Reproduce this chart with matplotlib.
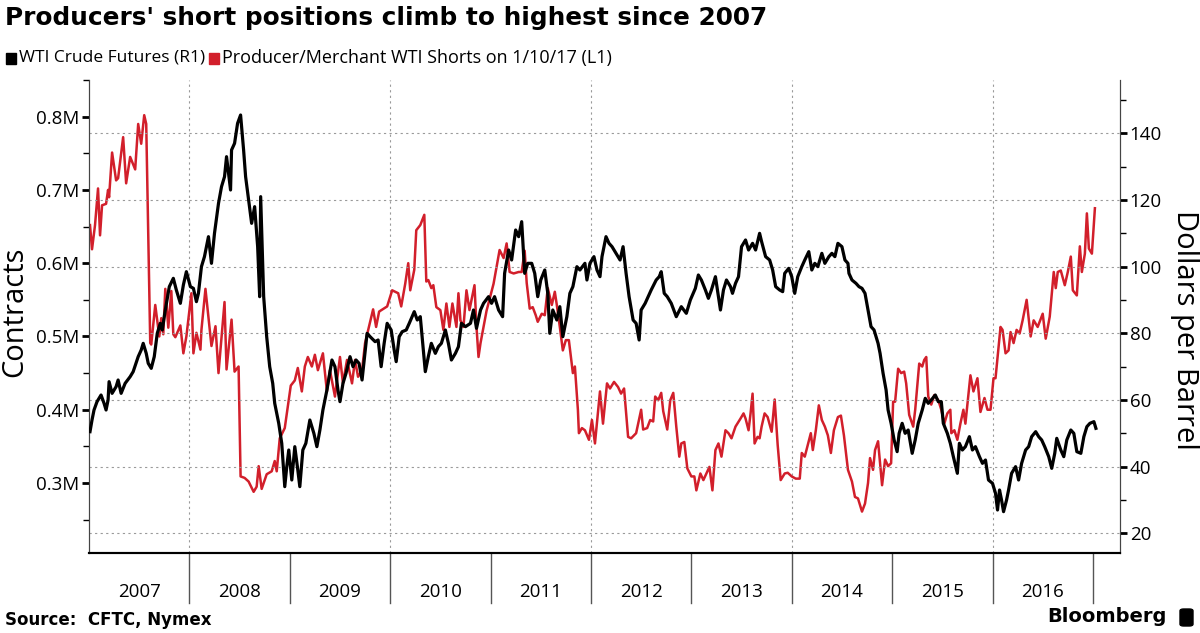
import matplotlib
matplotlib.use("Agg")
import matplotlib.pyplot as plt
from matplotlib.patches import Rectangle, FancyBboxPatch
from matplotlib.ticker import MultipleLocator, FixedLocator
import matplotlib.transforms as mtransforms

# WTI front-month price, $/bbl (right axis), time as decimal year
wti_t = [2007.01, 2007.03, 2007.05, 2007.08, 2007.12, 2007.15, 2007.17, 2007.19, 2007.20, 2007.23,
         2007.27, 2007.29, 2007.32, 2007.36, 2007.41, 2007.44, 2007.49, 2007.52, 2007.54, 2007.57,
         2007.59, 2007.62, 2007.65, 2007.68, 2007.71, 2007.73, 2007.76, 2007.80, 2007.84, 2007.87,
         2007.91, 2007.94, 2007.97, 2008.01, 2008.04, 2008.07, 2008.09, 2008.12, 2008.15, 2008.19,
         2008.22, 2008.25, 2008.29, 2008.32, 2008.35, 2008.37, 2008.41, 2008.42, 2008.45, 2008.48,
         2008.51, 2008.54, 2008.56, 2008.59, 2008.62, 2008.65, 2008.68, 2008.70, 2008.71, 2008.74,
         2008.77, 2008.80, 2008.83, 2008.85, 2008.89, 2008.92, 2008.95, 2008.97, 2008.99, 2009.02,
         2009.05, 2009.08, 2009.10, 2009.13, 2009.16, 2009.20, 2009.24, 2009.27, 2009.30, 2009.33,
         2009.37, 2009.42, 2009.45, 2009.48, 2009.50, 2009.53, 2009.56, 2009.60, 2009.63, 2009.66,
         2009.69, 2009.72, 2009.77, 2009.80, 2009.85, 2009.88, 2009.91, 2009.94, 2009.97, 2010.01,
         2010.04, 2010.06, 2010.09, 2010.12, 2010.16, 2010.19, 2010.24, 2010.27, 2010.30, 2010.33,
         2010.35, 2010.38, 2010.41, 2010.45, 2010.48, 2010.51, 2010.55, 2010.58, 2010.61, 2010.65,
         2010.68, 2010.71, 2010.75, 2010.80, 2010.83, 2010.86, 2010.90, 2010.93, 2010.98, 2011.01,
         2011.04, 2011.08, 2011.12, 2011.14, 2011.18, 2011.21, 2011.25, 2011.28, 2011.31, 2011.34,
         2011.37, 2011.41, 2011.44, 2011.47, 2011.50, 2011.54, 2011.57, 2011.59, 2011.62, 2011.66,
         2011.69, 2011.72, 2011.76, 2011.79, 2011.82, 2011.86, 2011.89, 2011.94, 2011.96, 2011.99,
         2012.03, 2012.06, 2012.09, 2012.11, 2012.15, 2012.18, 2012.21, 2012.25, 2012.29, 2012.32,
         2012.35, 2012.38, 2012.42, 2012.45, 2012.48, 2012.50, 2012.54, 2012.57, 2012.60, 2012.65,
         2012.68, 2012.70, 2012.73, 2012.76, 2012.80, 2012.85, 2012.90, 2012.95, 2012.99, 2013.04,
         2013.07, 2013.10, 2013.14, 2013.17, 2013.20, 2013.24, 2013.27, 2013.29, 2013.32, 2013.35,
         2013.39, 2013.41, 2013.44, 2013.47, 2013.50, 2013.54, 2013.57, 2013.61, 2013.64, 2013.68,
         2013.70, 2013.74, 2013.78, 2013.81, 2013.84, 2013.88, 2013.91, 2013.93, 2013.97, 2014.00,
         2014.03, 2014.06, 2014.10, 2014.13, 2014.17, 2014.20, 2014.23, 2014.26, 2014.30, 2014.33,
         2014.37, 2014.40, 2014.43, 2014.46, 2014.50, 2014.53, 2014.56, 2014.57, 2014.60, 2014.64,
         2014.67, 2014.70, 2014.73, 2014.76, 2014.79, 2014.82, 2014.86, 2014.88, 2014.91, 2014.94,
         2014.96, 2014.99, 2015.02, 2015.05, 2015.07, 2015.10, 2015.13, 2015.16, 2015.20, 2015.23,
         2015.26, 2015.30, 2015.33, 2015.36, 2015.39, 2015.43, 2015.46, 2015.49, 2015.51, 2015.55,
         2015.58, 2015.61, 2015.65, 2015.67, 2015.70, 2015.73, 2015.77, 2015.80, 2015.83, 2015.87,
         2015.90, 2015.93, 2015.96, 2016.00, 2016.03, 2016.05, 2016.07, 2016.09, 2016.11, 2016.14,
         2016.16, 2016.19, 2016.23, 2016.26, 2016.29, 2016.33, 2016.36, 2016.39, 2016.43, 2016.46,
         2016.49, 2016.52, 2016.56, 2016.59, 2016.62, 2016.64, 2016.68, 2016.71, 2016.74, 2016.78,
         2016.81, 2016.84, 2016.88, 2016.91, 2016.94, 2016.97, 2017.01, 2017.03]
wti_usd = [50.5, 54, 57, 59.5, 61.5, 59, 57, 60, 65.5, 62,
           64, 66, 62, 65, 67, 68.5, 73, 75, 77, 74,
           71, 69.5, 73, 80, 83, 81, 87, 94, 96.5, 93,
           89, 94.5, 98.5, 94, 93.5, 89.5, 92, 100, 103, 109,
           101, 110, 119, 124, 127, 133, 123, 135, 137, 143,
           145.5, 135, 127, 120, 113, 118, 106, 91, 121, 91,
           79, 70, 65, 59, 53, 47, 34, 40, 45, 36,
           46, 39, 34, 45, 47, 54, 50, 46, 51, 57,
           63, 72, 70, 63, 59.5, 65, 68, 73, 70, 72,
           71, 66, 80, 79, 77.5, 78, 70, 77, 83, 81,
           75, 71.5, 79, 80.5, 81, 83, 86.5, 84, 85, 75,
           68.5, 73, 77, 74, 76, 77, 81, 77, 72, 74,
           76, 83, 82, 83, 87, 81.5, 87, 89, 91, 89,
           91, 87, 85, 98, 105, 102, 111, 109, 113.5, 98,
           101, 101, 98, 91, 96, 99, 92, 80, 87, 84,
           88, 79, 85, 92, 94, 100, 99, 101, 96, 101,
           103, 99, 97, 103, 109, 107, 106, 104, 102, 106,
           98, 91, 84, 83, 78, 87, 89, 91, 93, 96,
           97, 98.5, 92, 91, 89, 85, 88, 86, 90, 93.5,
           97.5, 96, 93, 90.5, 93, 97, 91, 87, 93, 96,
           94, 92, 95, 97, 106, 108, 105, 107, 105, 110,
           107.5, 103, 102, 99, 94, 93, 92.5, 98, 99.5, 97,
           92, 97, 100, 102, 104.5, 99, 101, 100, 104, 101,
           103, 104, 103, 107, 106, 102, 101, 98, 96, 95,
           94, 93.5, 92, 87, 82, 81, 77, 74, 68, 63,
           57, 53, 48, 44.5, 50, 53, 50, 51, 44, 48,
           53, 57, 60.5, 59, 60, 61.5, 59.5, 59.5, 53, 50,
           47, 43, 38, 47, 45, 46, 49, 45, 46, 43,
           41, 42, 36, 35, 32, 27, 33, 30, 26.5, 30,
           33, 38, 40, 36, 41, 45, 46, 49, 50.5, 49,
           48, 46, 43, 39.5, 44, 48.5, 45, 43, 48, 51,
           50, 44.5, 44, 49, 52, 53, 53.5, 51.5]

# Producer/merchant WTI shorts, million contracts (left axis)
shorts_t = [2007.01, 2007.03, 2007.06, 2007.09, 2007.11, 2007.13, 2007.17, 2007.19, 2007.20, 2007.23,
            2007.27, 2007.29, 2007.34, 2007.37, 2007.41, 2007.46, 2007.49, 2007.52, 2007.55, 2007.57,
            2007.61, 2007.62, 2007.66, 2007.70, 2007.72, 2007.74, 2007.76, 2007.79, 2007.82, 2007.84,
            2007.86, 2007.91, 2007.94, 2007.97, 2008.02, 2008.04, 2008.07, 2008.11, 2008.12, 2008.16,
            2008.22, 2008.26, 2008.29, 2008.35, 2008.37, 2008.42, 2008.45, 2008.49, 2008.51, 2008.55,
            2008.59, 2008.64, 2008.67, 2008.69, 2008.72, 2008.77, 2008.82, 2008.85, 2008.87, 2008.90,
            2008.95, 2008.99, 2009.01, 2009.05, 2009.08, 2009.12, 2009.15, 2009.18, 2009.22, 2009.25,
            2009.28, 2009.33, 2009.37, 2009.40, 2009.45, 2009.50, 2009.53, 2009.57, 2009.62, 2009.65,
            2009.68, 2009.72, 2009.75, 2009.83, 2009.86, 2009.89, 2009.97, 2010.02, 2010.08, 2010.11,
            2010.15, 2010.18, 2010.20, 2010.24, 2010.26, 2010.30, 2010.34, 2010.36, 2010.38, 2010.41,
            2010.43, 2010.46, 2010.50, 2010.53, 2010.56, 2010.59, 2010.62, 2010.66, 2010.68, 2010.70,
            2010.73, 2010.76, 2010.79, 2010.84, 2010.86, 2010.88, 2010.90, 2010.96, 2011.03, 2011.09,
            2011.13, 2011.16, 2011.19, 2011.23, 2011.28, 2011.31, 2011.34, 2011.36, 2011.39, 2011.42,
            2011.45, 2011.47, 2011.51, 2011.54, 2011.57, 2011.61, 2011.64, 2011.66, 2011.69, 2011.72,
            2011.75, 2011.78, 2011.82, 2011.84, 2011.87, 2011.88, 2011.91, 2011.94, 2011.98, 2012.01,
            2012.04, 2012.09, 2012.12, 2012.16, 2012.19, 2012.23, 2012.27, 2012.30, 2012.33, 2012.37,
            2012.40, 2012.45, 2012.50, 2012.52, 2012.56, 2012.59, 2012.62, 2012.64, 2012.67, 2012.70,
            2012.72, 2012.76, 2012.79, 2012.82, 2012.85, 2012.88, 2012.90, 2012.93, 2012.96, 2013.00,
            2013.03, 2013.05, 2013.09, 2013.12, 2013.15, 2013.18, 2013.21, 2013.24, 2013.27, 2013.30,
            2013.34, 2013.37, 2013.40, 2013.44, 2013.49, 2013.52, 2013.54, 2013.57, 2013.59, 2013.61,
            2013.63, 2013.66, 2013.68, 2013.70, 2013.73, 2013.76, 2013.80, 2013.83, 2013.86, 2013.89,
            2013.93, 2013.96, 2014.00, 2014.04, 2014.08, 2014.10, 2014.13, 2014.16, 2014.19, 2014.21,
            2014.24, 2014.27, 2014.30, 2014.33, 2014.36, 2014.39, 2014.42, 2014.46, 2014.49, 2014.52,
            2014.56, 2014.60, 2014.63, 2014.66, 2014.70, 2014.73, 2014.76, 2014.78, 2014.81, 2014.83,
            2014.86, 2014.90, 2014.93, 2014.96, 2014.99, 2015.01, 2015.03, 2015.06, 2015.09, 2015.12,
            2015.14, 2015.17, 2015.21, 2015.23, 2015.27, 2015.30, 2015.32, 2015.34, 2015.36, 2015.39,
            2015.42, 2015.46, 2015.49, 2015.52, 2015.55, 2015.58, 2015.59, 2015.62, 2015.65, 2015.68,
            2015.71, 2015.73, 2015.78, 2015.81, 2015.85, 2015.88, 2015.92, 2015.95, 2015.98, 2016.01,
            2016.03, 2016.08, 2016.10, 2016.13, 2016.16, 2016.18, 2016.21, 2016.24, 2016.27, 2016.30,
            2016.34, 2016.38, 2016.41, 2016.45, 2016.50, 2016.53, 2016.57, 2016.61, 2016.63, 2016.65,
            2016.68, 2016.72, 2016.75, 2016.78, 2016.80, 2016.84, 2016.87, 2016.89, 2016.92, 2016.94,
            2016.96, 2016.99, 2017.02]
shorts_m = [0.652, 0.619, 0.652, 0.702, 0.638, 0.679, 0.681, 0.700, 0.690, 0.751,
            0.713, 0.716, 0.772, 0.709, 0.745, 0.728, 0.790, 0.763, 0.802, 0.790,
            0.491, 0.489, 0.543, 0.500, 0.525, 0.503, 0.565, 0.512, 0.562, 0.503,
            0.499, 0.515, 0.477, 0.500, 0.559, 0.477, 0.505, 0.482, 0.509, 0.565,
            0.487, 0.514, 0.450, 0.547, 0.455, 0.523, 0.452, 0.459, 0.309, 0.307,
            0.302, 0.288, 0.295, 0.323, 0.292, 0.312, 0.316, 0.330, 0.316, 0.361,
            0.375, 0.413, 0.433, 0.440, 0.457, 0.425, 0.459, 0.472, 0.459, 0.475,
            0.454, 0.477, 0.425, 0.454, 0.418, 0.472, 0.436, 0.468, 0.436, 0.468,
            0.445, 0.454, 0.491, 0.537, 0.513, 0.534, 0.541, 0.563, 0.559, 0.541,
            0.572, 0.600, 0.563, 0.591, 0.645, 0.652, 0.666, 0.575, 0.577, 0.566,
            0.570, 0.540, 0.536, 0.509, 0.545, 0.513, 0.545, 0.513, 0.559, 0.522,
            0.513, 0.563, 0.536, 0.570, 0.513, 0.472, 0.491, 0.535, 0.572, 0.618,
            0.607, 0.627, 0.588, 0.586, 0.588, 0.588, 0.617, 0.573, 0.538, 0.540,
            0.529, 0.520, 0.531, 0.529, 0.566, 0.543, 0.561, 0.543, 0.513, 0.481,
            0.495, 0.495, 0.450, 0.459, 0.400, 0.368, 0.375, 0.372, 0.359, 0.386,
            0.354, 0.425, 0.381, 0.436, 0.429, 0.438, 0.431, 0.422, 0.429, 0.363,
            0.361, 0.368, 0.400, 0.373, 0.375, 0.386, 0.384, 0.418, 0.413, 0.423,
            0.398, 0.373, 0.413, 0.423, 0.377, 0.336, 0.354, 0.356, 0.320, 0.309,
            0.309, 0.290, 0.313, 0.304, 0.313, 0.322, 0.290, 0.345, 0.354, 0.336,
            0.372, 0.368, 0.361, 0.377, 0.388, 0.395, 0.388, 0.372, 0.395, 0.422,
            0.354, 0.363, 0.361, 0.377, 0.395, 0.390, 0.370, 0.414, 0.352, 0.304,
            0.313, 0.314, 0.309, 0.306, 0.306, 0.341, 0.336, 0.352, 0.368, 0.345,
            0.372, 0.406, 0.386, 0.377, 0.365, 0.341, 0.372, 0.390, 0.392, 0.365,
            0.318, 0.302, 0.281, 0.279, 0.261, 0.272, 0.300, 0.334, 0.318, 0.345,
            0.357, 0.297, 0.332, 0.323, 0.327, 0.411, 0.411, 0.456, 0.450, 0.452,
            0.436, 0.393, 0.377, 0.400, 0.463, 0.459, 0.468, 0.472, 0.418, 0.407,
            0.420, 0.413, 0.400, 0.381, 0.395, 0.400, 0.368, 0.372, 0.359, 0.381,
            0.400, 0.381, 0.447, 0.425, 0.443, 0.397, 0.416, 0.400, 0.400, 0.443,
            0.443, 0.513, 0.509, 0.477, 0.481, 0.506, 0.491, 0.509, 0.504, 0.522,
            0.550, 0.500, 0.522, 0.513, 0.531, 0.497, 0.527, 0.588, 0.566, 0.588,
            0.590, 0.570, 0.588, 0.609, 0.563, 0.556, 0.623, 0.588, 0.613, 0.668,
            0.620, 0.613, 0.675]

year_labels = ['2007', '2008', '2009', '2010', '2011', '2012', '2013', '2014', '2015', '2016']
left_ticks = [0.3, 0.4, 0.5, 0.6, 0.7, 0.8]
right_ticks = [20, 40, 60, 80, 100, 120, 140]

RED = '#d21f2b'
W, H = 1200, 633
plt.rcParams['font.family'] = ['Open Sans', 'DejaVu Sans']

fig = plt.figure(figsize=(W / 100, H / 100), dpi=100)
ax = fig.add_axes([89 / W, 1 - 553 / H, (1120 - 89) / W, (553 - 80) / H])
ax2 = ax.twinx()

ax.set_xlim(2007.0, 2017.27)
ax.set_ylim(0.2045, 0.85)
ax2.set_ylim(14.1, 156)

# grid: horizontal at right-axis ticks, vertical every other year
for v in right_ticks:
    ax2.axhline(v, color='#9a9a9a', lw=0.8, ls=(0, (2, 3)), zorder=0)
for yr in range(2008, 2017, 2):
    ax.axvline(yr, color='#9a9a9a', lw=0.8, ls=(0, (2, 3)), zorder=0)

ax.plot(shorts_t, shorts_m, color=RED, lw=1.8, zorder=3)
ax2.plot(wti_t, wti_usd, color='black', lw=2.3, zorder=3)

# axes cosmetics
for a in (ax, ax2):
    a.spines['top'].set_visible(False)
    a.spines['bottom'].set_linewidth(1.5)
    a.spines['left'].set_color('#444444')
    a.spines['right'].set_color('#444444')
ax.set_xticks([])

ax.yaxis.set_major_locator(FixedLocator(left_ticks))
ax.yaxis.set_minor_locator(FixedLocator([0.25, 0.35, 0.45, 0.55, 0.65, 0.75, 0.85]))
ax.set_yticklabels([f'{v:.1f}M' for v in left_ticks])
ax.tick_params(axis='y', which='major', length=5, width=2, labelsize=13.5, pad=2)
ax.tick_params(axis='y', which='minor', length=4, width=1)

ax2.yaxis.set_major_locator(FixedLocator(right_ticks))
ax2.yaxis.set_minor_locator(MultipleLocator(10))
ax2.set_yticklabels([str(v) for v in right_ticks])
ax2.tick_params(axis='y', which='major', length=5, width=2, labelsize=13.5, pad=2)
ax2.tick_params(axis='y', which='minor', length=4, width=1)

# year bands below the axis
trans = mtransforms.blended_transform_factory(ax.transData, ax.transAxes)
for yr in range(2008, 2018):
    ax.plot([yr, yr], [0, -50 / 473], color='#555555', lw=1, transform=trans, clip_on=False)
for i, lab in enumerate(year_labels):
    ax.text(2007.5 + i, -39 / 473, lab, transform=trans, ha='center', va='center', fontsize=13.5)

# axis titles
fig.text(15 / W, 1 - 312 / H, 'Contracts', rotation=90, ha='center', va='center', fontsize=21)
fig.text(1185 / W, 1 - 330 / H, 'Dollars per Barrel', rotation=270, ha='center', va='center', fontsize=21)

# title, legend, source
fig.text(5 / W, 1 - 18 / H, "Producers' short positions climb to highest since 2007",
         family='DejaVu Sans', fontweight='bold', fontsize=17.8, va='center')

fig.patches.append(Rectangle((6 / W, 1 - 64 / H), 10 / W, 11 / H, color='black', transform=fig.transFigure))
t1 = fig.text(19 / W, 1 - 58 / H, 'WTI Crude Futures (R1)', fontsize=12.5, va='center')
renderer = fig.canvas.get_renderer()
x_red = t1.get_window_extent(renderer).x1 + 4
fig.patches.append(Rectangle((x_red / W, 1 - 64 / H), 10 / W, 11 / H, color=RED, transform=fig.transFigure))
fig.text((x_red + 13) / W, 1 - 58 / H, 'Producer/Merchant WTI Shorts on 1/10/17 (L1)',
         fontsize=13, va='center')

fig.text(5 / W, 1 - 620 / H, 'Source:  CFTC, Nymex', family='DejaVu Sans', fontweight='bold',
         fontsize=12, va='center')
fig.text(1167 / W, 1 - 617 / H, 'Bloomberg', family='DejaVu Sans', fontweight='bold',
         fontsize=14, ha='right', va='center')
fig.patches.append(FancyBboxPatch((1180 / W, 1 - 626 / H), 13 / W, 17 / H,
                                  boxstyle='round,pad=0,rounding_size=0.003',
                                  color='black', transform=fig.transFigure))

fig.savefig('out.png', dpi=100)
